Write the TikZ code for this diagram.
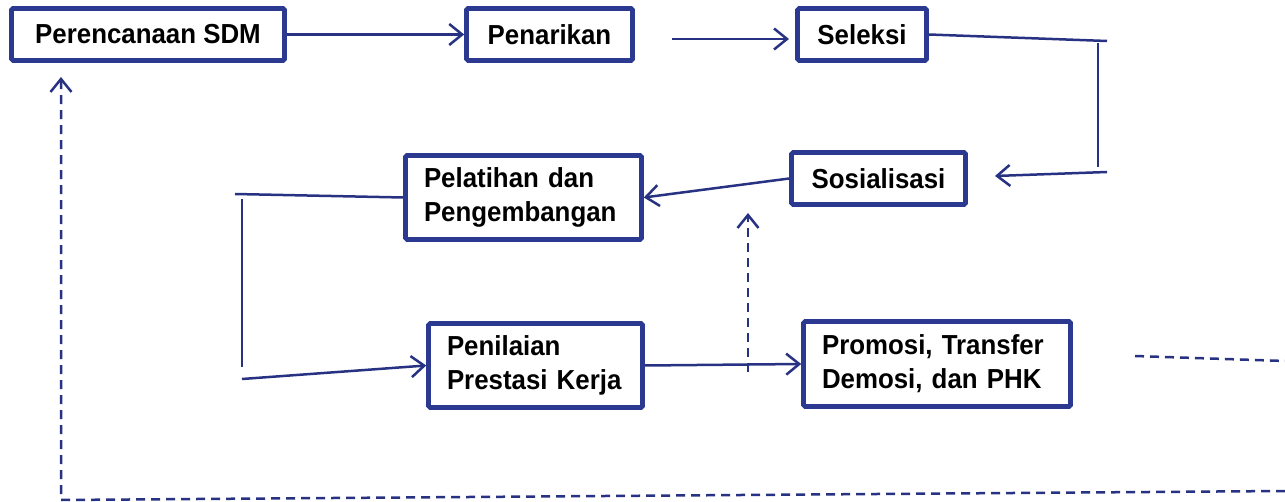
\documentclass[tikz,border=0pt]{standalone}
\usepackage{fontspec}
\setmainfont{Liberation Sans}[FakeStretch=0.94]
\usetikzlibrary{arrows.meta}
\definecolor{navy}{RGB}{43,57,144}
\definecolor{linec}{RGB}{40,50,130}
\begin{document}
\begin{tikzpicture}[x=1pt,y=-1pt,
  box/.style={draw=navy, line width=4.6pt, fill=white, rounded corners=1.5pt,
    inner sep=0pt, font=\fontsize{27.5}{34}\selectfont\bfseries, text=black},
  mbox/.style={box, align=left, inner xsep=18.5pt},
  conn/.style={draw=linec, line width=2.5pt},
  arr/.style={conn, -{Straight Barb[length=13pt,width=21pt]}},
  dsh/.style={draw=linec, line width=2.5pt, dash pattern=on 9pt off 6pt},
  darr/.style={dsh, -{Straight Barb[length=13pt,width=21pt]}}
]
\useasboundingbox (0,0) rectangle (1285,502);

% boxes
\node[box, minimum width=273pt, minimum height=52pt] (plan) at (148,34.5) {Perencanaan SDM};
\node[box, minimum width=166pt, minimum height=52pt] (tarik) at (549.5,34.5) {Penarikan};
\node[box, minimum width=129pt, minimum height=52pt] (sel) at (862,34.5) {Seleksi};
\node[box, minimum width=174pt, minimum height=52pt] (sos) at (878.5,178.5) {Sosialisasi};
\node[mbox, text width=199pt, minimum height=84pt] (latih) at (523.5,197.5) {Pelatihan dan\\Pengembangan};
\node[mbox, text width=177pt, minimum height=84pt] (nilai) at (535.5,365.5) {Penilaian\\Prestasi Kerja};
\node[mbox, text width=230pt, minimum height=85pt] (promo) at (937,364) {Promosi, Transfer\\Demosi, dan PHK};

% free-end coordinates
\coordinate (g1) at (672,39);
\coordinate (g2) at (789,39);
\coordinate (r1) at (1107,41);
\coordinate (r2t) at (1098,43);
\coordinate (r2b) at (1098,167);
\coordinate (r3) at (1107,172);
\coordinate (r3t) at (995,176);
\coordinate (l1) at (235,194);
\coordinate (l2t) at (242,199);
\coordinate (l2b) at (242,367);
\coordinate (l3) at (242,379);
\coordinate (d1b) at (748,372);
\coordinate (d1t) at (748,213);
\coordinate (d2a) at (1135,356);
\coordinate (d2b) at (1285,361);
\coordinate (d3a) at (1285,491);
\coordinate (d3c) at (61,500);
\coordinate (d3t) at (61,77);

% solid connectors
\draw[arr] (plan.east) -- (tarik.west);
\draw[arr] (g1) -- (g2);
\draw[conn] (sel.east) -- (r1);
\draw[conn] (r2t) -- (r2b);
\draw[arr] (r3) -- (r3t);
\draw[arr] (sos.west) -- (latih.east);
\draw[conn] (latih.west) -- (l1);
\draw[conn] (l2t) -- (l2b);
\draw[arr] (l3) -- (nilai.west);
\draw[arr] (nilai.east) -- (promo.west);

% dashed connectors
\draw[darr] (d1b) -- (d1t);
\draw[dsh] (d2a) -- (d2b);
\draw[darr] (d3a) -- (d3c) -- (d3t);
\end{tikzpicture}
\end{document}
